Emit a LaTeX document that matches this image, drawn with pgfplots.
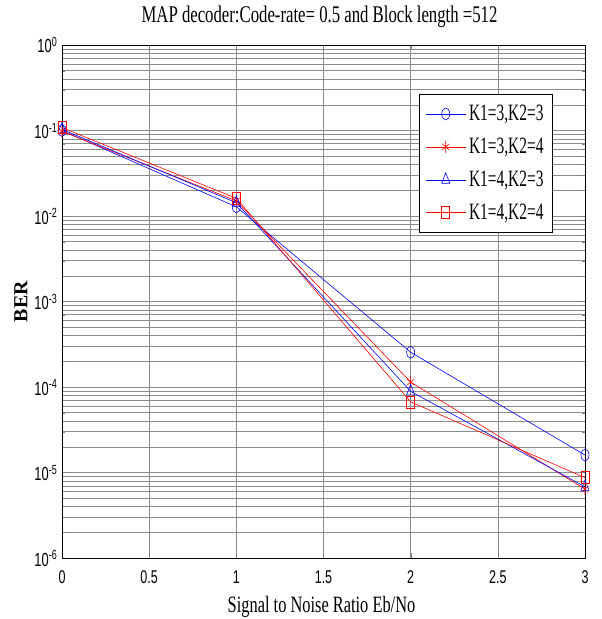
\documentclass[border=0pt]{standalone}
\usepackage{fontspec}
\setmainfont{Liberation Serif}
\newfontfamily\mfont[FakeStretch=0.7]{Liberation Serif}
\newfontfamily\lfont[FakeStretch=0.66]{Liberation Serif}
\newfontfamily\tfont[FakeStretch=0.68]{Liberation Sans}
\usepackage{pgfplots}
\pgfplotsset{compat=1.18}

\begin{document}
\begin{tikzpicture}
\begin{semilogyaxis}[
    scale only axis,
    width=523bp, height=513bp,
    xmin=0, xmax=3,
    ymin=1e-6, ymax=1,
    xtick={0,0.5,...,3},
    ytick={1e-6,1e-5,1e-4,1e-3,1e-2,1e-1,1},
    xticklabel style={font=\fontsize{18.5}{18.5}\selectfont\tfont, anchor=base, yshift=-25bp},
    yticklabel style={font=\fontsize{19}{19}\selectfont\tfont, anchor=base east, inner sep=0pt, xshift=-4.5bp, yshift=-8bp},
    xticklabel={\pgfmathprintnumber{\tick}},
    yticklabel={10\textsuperscript{\pgfmathparse{int(round(\tick/ln(10)))}\pgfmathresult}},
    /pgf/number format/assume math mode=true,
    tick align=inside,
    major tick length=5bp,
    minor tick length=3bp,
    xmajorgrids, ymajorgrids, yminorgrids,
    major grid style={black!45, line width=0.5pt},
    minor grid style={black!45, line width=0.5pt},
    axis line style={line width=0.9pt},
    title={MAP decoder:Code-rate= 0.5 and Block length =512},
    title style={font=\fontsize{24}{24}\selectfont\mfont, at={(0.5,1)}, anchor=base, yshift=17bp, xshift=-4bp},
    xlabel={Signal to Noise Ratio Eb/No},
    xlabel style={font=\fontsize{23.5}{23.5}\selectfont\mfont, at={(0.5,0)}, anchor=base, yshift=-54bp, xshift=-2bp},
    ylabel={\textbf{BER}},
    ylabel style={font=\fontsize{20}{20}\selectfont, at={(0,0.5)}, anchor=center, yshift=41bp},
    legend style={at={(0.6826,0.9045)}, anchor=north west, font=\fontsize{23.5}{23.5}\selectfont\lfont,
        draw=black, line width=0.9pt, row sep=12pt, inner xsep=6bp, inner ysep=9bp,
        cells={anchor=west}, nodes={inner xsep=3bp}},
    legend cell align=left,
    legend image code/.code={
        \draw[mark repeat=2, mark phase=2] plot coordinates {(0bp,0bp)(20bp,0bp)(40bp,0bp)};
    },
]
\addplot[blue, mark=o, mark size=6pt, line width=0.6pt, mark options={xscale=0.67}] coordinates {
    (0,0.100)(1,1.28e-2)(2,2.55e-4)(3,1.60e-5)};
\addplot[red, mark=asterisk, mark size=6pt, line width=0.6pt, mark options={xscale=0.67}] coordinates {
    (0,0.098)(1,1.50e-2)(2,1.14e-4)(3,6.4e-6)};
\addplot[blue, mark=triangle, mark size=7pt, line width=0.6pt, mark options={xscale=0.67}] coordinates {
    (0,0.103)(1,1.43e-2)(2,8.9e-5)(3,6.8e-6)};
\addplot[red, mark=square, mark size=6pt, line width=0.6pt, mark options={xscale=0.67}] coordinates {
    (0,0.108)(1,1.61e-2)(2,6.7e-5)(3,8.7e-6)};
\legend{K1=3{,}K2=3, K1=3{,}K2=4, K1=4{,}K2=3, K1=4{,}K2=4}
\end{semilogyaxis}
\pgfresetboundingbox
\useasboundingbox ([shift={(-62bp,-61bp)}]current axis.south west) rectangle ([shift={(17bp,45bp)}]current axis.north east);
\end{tikzpicture}
\end{document}
